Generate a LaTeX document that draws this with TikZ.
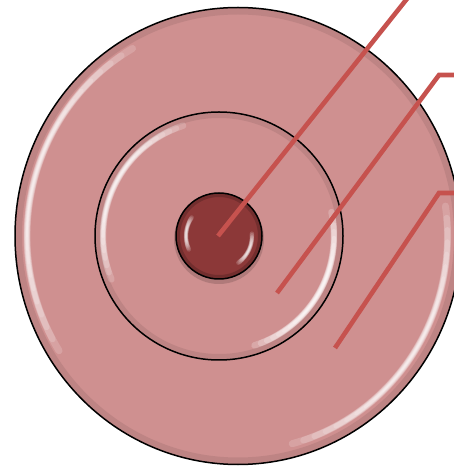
\documentclass[tikz,border=0pt]{standalone}
\definecolor{ringfill}{RGB}{207,144,144}
\definecolor{corefill}{RGB}{140,56,56}
\definecolor{leader}{RGB}{198,82,78}
% #1 centre, #2 rx, #3 ry, #4 start angle, #5 end angle, #6 max width, #7 layer opacity
\newcommand\glossarc[7]{%
  \foreach \k in {0,...,9}{%
    \pgfmathsetmacro\gm{(#4+#5)/2}%
    \pgfmathsetmacro\gh{(#5-#4)/2*(1-\k/13)}%
    \pgfmathsetmacro\gs{\gm-\gh}%
    \pgfmathsetmacro\ge{\gm+\gh}%
    \pgfmathsetmacro\gw{#6*(1-\k/11)}%
    \draw[white,opacity=#7,line width=\gw pt,line cap=round] (#1) ++(\gs:#2 and #3) arc[start angle=\gs,end angle=\ge,x radius=#2,y radius=#3];}}
\tikzset{
  border/.style={draw=black,line width=1.5},
  leaderline/.style={draw=leader,line width=4.6,line join=miter},
}
\begin{document}
\begin{tikzpicture}[x=1pt,y=1pt]
\useasboundingbox (0,0) rectangle (454,466);
\coordinate (c) at (219,230);
\coordinate (co) at (238,230);
% outer ring
\fill[ringfill] (co) ellipse[x radius=223,y radius=228.5];
\draw[black!45!ringfill,opacity=.18,line width=7] (co) ellipse[x radius=219.5,y radius=225];
\glossarc{co}{211}{216.5}{120}{212}{7}{.17}
\glossarc{co}{209.5}{215}{-75}{8}{7}{.17}
\draw[border] (co) ellipse[x radius=223,y radius=228.5];
% middle ring
\fill[ringfill] (c) circle[radius=124];
\draw[black!45!ringfill,opacity=.18,line width=6] (c) circle[radius=121];
\glossarc{c}{116}{116}{108}{202}{6.5}{.18}
\glossarc{c}{115}{115}{-72}{12}{6.5}{.22}
\draw[border] (c) circle[radius=124];
% core
\fill[black,opacity=.15] (219,227) circle[radius=45];
\fill[corefill] (c) circle[radius=43];
\draw[black!40!corefill,opacity=.45,line width=4] (c) circle[radius=41];
\glossarc{c}{33}{33}{146}{204}{4.5}{.17}
\glossarc{c}{33}{33}{-54}{4}{4.5}{.17}
\draw[border] (c) circle[radius=43];
% leader lines
\coordinate (l1a) at (218,230);
\coordinate (l1b) at (414,476);
\coordinate (l2a) at (277,173);
\coordinate (l2b) at (439,391);
\coordinate (l2c) at (460,391);
\coordinate (l3a) at (335,118);
\coordinate (l3b) at (439,273);
\coordinate (l3c) at (460,273);
\draw[leaderline] (l1a) -- (l1b);
\draw[leaderline] (l2a) -- (l2b) -- (l2c);
\draw[leaderline] (l3a) -- (l3b) -- (l3c);
\end{tikzpicture}
\end{document}
